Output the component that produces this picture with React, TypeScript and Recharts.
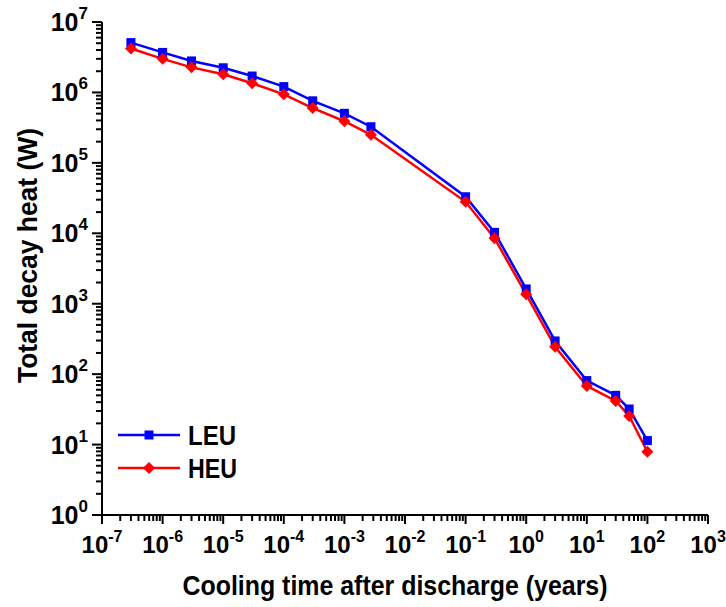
import React from "react";
import { Legend, Line, LineChart, XAxis, YAxis } from "recharts";

// cooling time (years) and total decay heat (W)
const times = [
  3e-7, 1e-6, 3e-6, 1e-5, 3e-5, 1e-4, 3e-4, 1e-3, 2.74e-3, 0.1, 0.3, 1, 3, 10, 30,
  50, 100,
];
const leu = [
  5.1e6, 3.7e6, 2.8e6, 2.24e6, 1.71e6, 1.21e6, 7.6e5, 5.05e5, 3.26e5, 3.3e4,
  1.03e4, 1620, 296, 81, 50, 32, 11.4,
];
const heu = [
  4.2e6, 3.0e6, 2.27e6, 1.81e6, 1.35e6, 9.4e5, 6.0e5, 3.9e5, 2.5e5, 2.8e4, 8.5e3,
  1360, 245, 68, 41.6, 25.5, 7.9,
];

const xDecades = [-7, -6, -5, -4, -3, -2, -1, 0, 1, 2, 3];
const yDecades = [0, 1, 2, 3, 4, 5, 6, 7];

const data = times.map((t, i) => ({ t, leu: leu[i], heu: heu[i] }));

// majors plus 2..9 minors in every decade
const buildTicks = (decades: number[]) => {
  const out: number[] = [];
  decades.forEach((d, i) => {
    out.push(Math.pow(10, d));
    if (i < decades.length - 1) {
      for (let m = 2; m <= 9; m++) out.push(m * Math.pow(10, d));
    }
  });
  return out;
};
const xTicks = buildTicks(xDecades);
const yTicks = buildTicks(yDecades);

const FONT = "'Liberation Sans', Arial, sans-serif";

const decade = (v: number) => {
  const e = Math.round(Math.log10(v));
  const major = Math.abs(v / Math.pow(10, e) - 1) < 1e-6;
  return { e, major };
};

const XTick = (props: any) => {
  const { x, y, payload } = props;
  const { e, major } = decade(payload.value);
  return (
    <g>
      <line x1={x} x2={x} y1={y} y2={y + (major ? 9 : 6)} stroke="#000" strokeWidth={2} />
      {major && (
        <text x={x} y={y + 38} textAnchor="middle" fontFamily={FONT} fontWeight="bold" fontSize={24} fill="#000">
          10
          <tspan dy={-11} fontSize={16}>{e}</tspan>
        </text>
      )}
    </g>
  );
};

const YTick = (props: any) => {
  const { x, y, payload } = props;
  const { e, major } = decade(payload.value);
  return (
    <g>
      <line x1={x} x2={x - (major ? 10 : 6)} y1={y} y2={y} stroke="#000" strokeWidth={2} />
      {major && (
        <text x={x - 14} y={y + 9} textAnchor="end" fontFamily={FONT} fontWeight="bold" fontSize={25} fill="#000">
          10
          <tspan dy={-12} fontSize={17}>{e}</tspan>
        </text>
      )}
    </g>
  );
};

const Square = (props: any) => {
  const { cx, cy, index } = props;
  if (cx == null || cy == null) return <g key={`s${index}`} />;
  return <rect key={`s${index}`} x={cx - 4.5} y={cy - 4.5} width={9} height={9} fill="#0000ff" />;
};

const Diamond = (props: any) => {
  const { cx, cy, index } = props;
  if (cx == null || cy == null) return <g key={`d${index}`} />;
  const r = 6;
  return (
    <path
      key={`d${index}`}
      d={`M${cx},${cy - r}L${cx + r},${cy}L${cx},${cy + r}L${cx - r},${cy}Z`}
      fill="#ff0000"
    />
  );
};

const LegendBox = () => (
  <svg width={160} height={70}>
    <line x1={8} x2={70} y1={17} y2={17} stroke="#0000ff" strokeWidth={2.5} />
    <rect x={34.5} y={12.5} width={9} height={9} fill="#0000ff" />
    <text x={78} y={27} fontFamily={FONT} fontWeight="bold" fontSize={28} textLength={48} lengthAdjust="spacingAndGlyphs">
      LEU
    </text>
    <line x1={8} x2={70} y1={50} y2={50} stroke="#ff0000" strokeWidth={2.5} />
    <path d="M39,44L45,50L39,56L33,50Z" fill="#ff0000" />
    <text x={78} y={60} fontFamily={FONT} fontWeight="bold" fontSize={28} textLength={49} lengthAdjust="spacingAndGlyphs">
      HEU
    </text>
  </svg>
);

export default function App() {
  return (
    <div style={{ position: "absolute", left: 0, top: 0, background: "#fff" }}>
      <LineChart width={726} height={607} data={data} margin={{ top: 22, right: 18, bottom: 0, left: 0 }}>
        <XAxis
          dataKey="t"
          type="number"
          scale="log"
          domain={[1e-7, 1e3]}
          allowDataOverflow
          ticks={xTicks}
          interval={0}
          tick={<XTick />}
          tickLine={false}
          tickSize={0}
          tickMargin={0}
          height={92}
          axisLine={{ stroke: "#000", strokeWidth: 2 }}
          label={{
            content: (p: any) => {
              const vb = p.viewBox;
              return (
                <text
                  x={vb.x + vb.width / 2 - 10}
                  y={vb.y + 80}
                  textAnchor="middle"
                  fontFamily={FONT}
                  fontWeight="bold"
                  fontSize={28}
                  textLength={425}
                  lengthAdjust="spacingAndGlyphs"
                >
                  Cooling time after discharge (years)
                </text>
              );
            },
          }}
        />
        <YAxis
          type="number"
          scale="log"
          domain={[1, 1e7]}
          allowDataOverflow
          ticks={yTicks}
          interval={0}
          tick={<YTick />}
          tickLine={false}
          tickSize={0}
          tickMargin={0}
          width={102}
          axisLine={{ stroke: "#000", strokeWidth: 2 }}
          label={{
            content: (p: any) => {
              const vb = p.viewBox;
              const cy = vb.y + vb.height / 2 - 13;
              return (
                <text
                  x={37}
                  y={cy}
                  transform={`rotate(-90 37 ${cy})`}
                  textAnchor="middle"
                  fontFamily={FONT}
                  fontWeight="bold"
                  fontSize={27}
                  textLength={255}
                  lengthAdjust="spacingAndGlyphs"
                >
                  Total decay heat (W)
                </text>
              );
            },
          }}
        />
        <Legend
          layout="vertical"
          align="center"
          verticalAlign="middle"
          content={<LegendBox />}
          wrapperStyle={{ left: 110, top: 418, width: 160, height: 70 }}
        />
        <Line
          dataKey="leu"
          type="linear"
          stroke="#0000ff"
          strokeWidth={2.5}
          dot={Square}
          activeDot={false}
          isAnimationActive={false}
        />
        <Line
          dataKey="heu"
          type="linear"
          stroke="#ff0000"
          strokeWidth={2.5}
          dot={Diamond}
          activeDot={false}
          isAnimationActive={false}
        />
      </LineChart>
    </div>
  );
}
